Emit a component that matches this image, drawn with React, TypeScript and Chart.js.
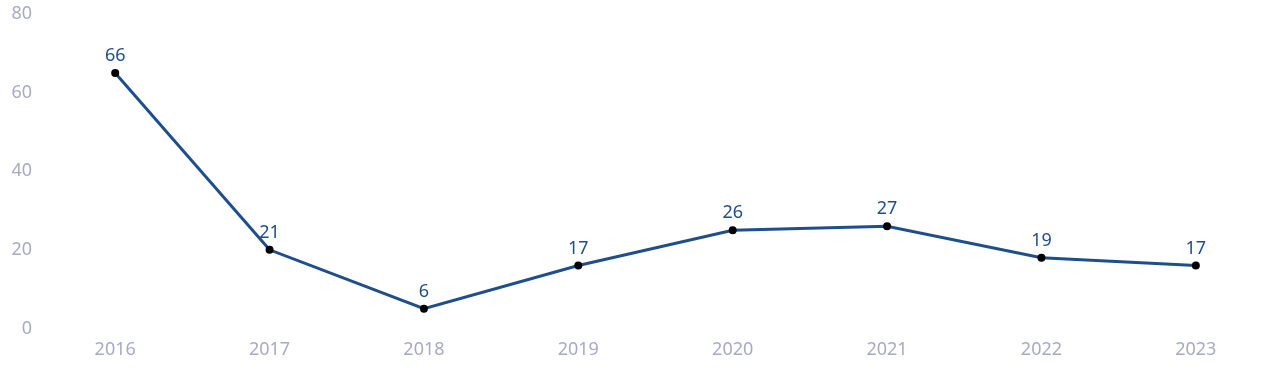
import React, { useEffect, useRef } from "react";
import { Chart, registerables } from "chart.js";

Chart.register(...registerables);

const years = ["2016", "2017", "2018", "2019", "2020", "2021", "2022", "2023"];
const values = [65, 20, 5, 16, 25, 26, 18, 16];
const valueLabels = ["66", "21", "6", "17", "26", "27", "19", "17"];
const yTicks = [0, 20, 40, 60, 80];

const FONT = "'Noto Sans', sans-serif";

const labelPlugin = {
  id: "pointLabels",
  afterDatasetsDraw(chart: any) {
    const ctx = chart.ctx;
    const meta = chart.getDatasetMeta(0);
    ctx.save();
    ctx.font = `18px ${FONT}`;
    ctx.fillStyle = "#1f4e8c";
    ctx.textAlign = "center";
    ctx.textBaseline = "middle";
    meta.data.forEach((pt: any, i: number) => {
      ctx.fillText(valueLabels[i], pt.x, pt.y - 17);
    });
    ctx.restore();
  },
};

export default function App() {
  const ref = useRef<HTMLCanvasElement>(null);
  useEffect(() => {
    if (!ref.current) return;
    const chart = new Chart(ref.current, {
      type: "line",
      data: {
        labels: years,
        datasets: [
          {
            data: values,
            borderColor: "#1f4e8c",
            borderWidth: 3,
            pointRadius: 4,
            pointBackgroundColor: "#000",
            pointBorderColor: "#000",
            pointBorderWidth: 0,
            tension: 0,
            fill: false,
          },
        ],
      },
      options: {
        animation: false,
        responsive: false,
        maintainAspectRatio: false,
        layout: { padding: { top: 4, right: 7, bottom: 10, left: 0 } },
        plugins: { legend: { display: false }, tooltip: { enabled: false } },
        scales: {
          x: {
            offset: true,
            grid: { display: false, drawTicks: false },
            border: { display: false },
            ticks: { color: "#a8aac4", font: { family: FONT, size: 18 }, padding: 11 },
          },
          y: {
            min: 0,
            max: 80,
            afterFit: (s: any) => {
              s.width = 38;
            },
            afterBuildTicks: (s: any) => {
              s.ticks = yTicks.map((v) => ({ value: v }));
            },
            grid: { display: false, drawTicks: false },
            border: { display: false },
            ticks: { color: "#a8aac4", font: { family: FONT, size: 18, lineHeight: 0.9 }, padding: 6 },
          },
        },
      },
      plugins: [labelPlugin],
    });
    return () => chart.destroy();
  }, []);
  return (
    <div style={{ position: "absolute", left: 0, top: 0, width: 1280, height: 382, background: "#fff" }}>
      <canvas ref={ref} width={1280} height={382} />
    </div>
  );
}
